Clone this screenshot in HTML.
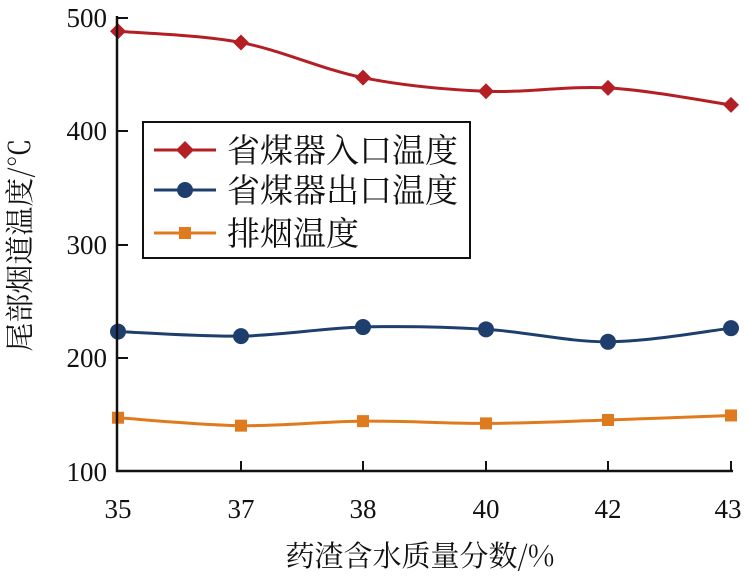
<!DOCTYPE html>
<html><head><meta charset="utf-8"><style>
body{margin:0;background:#fff;}
svg{display:block;}
.n{font-family:"Liberation Serif","DejaVu Serif",serif;}
.c{font-family:"Noto Serif CJK SC","Liberation Serif",serif;}
</style></head><body>
<svg id="s" width="747" height="578" xmlns="http://www.w3.org/2000/svg">
<g id="series"></g>
<line x1="117" y1="16" x2="117" y2="472" stroke="#111" stroke-width="2.5"/>
<line x1="116" y1="471" x2="733" y2="471" stroke="#111" stroke-width="2.5"/>
<g stroke="#111" stroke-width="2">
<line x1="117" y1="18" x2="128" y2="18"/><line x1="117" y1="131" x2="128" y2="131"/>
<line x1="117" y1="245" x2="128" y2="245"/><line x1="117" y1="358" x2="128" y2="358"/>
<line x1="241" y1="471" x2="241" y2="461"/><line x1="363" y1="471" x2="363" y2="461"/>
<line x1="486" y1="471" x2="486" y2="461"/><line x1="608" y1="471" x2="608" y2="461"/>
<line x1="731" y1="471" x2="731" y2="461"/>
</g>
<g class="n" font-size="27" fill="#111" text-anchor="end">
<text x="107" y="27">500</text><text x="107" y="140">400</text><text x="107" y="254">300</text>
<text x="107" y="367">200</text><text x="107" y="481">100</text>
</g>
<g class="n" font-size="27" fill="#111" text-anchor="middle">
<text x="118" y="518">35</text><text x="241" y="518">37</text><text x="363" y="518">38</text>
<text x="486" y="518">40</text><text x="608" y="518">42</text><text x="728" y="518">43</text>
</g>
<text class="c" x="420" y="566" font-size="29" text-anchor="middle" fill="#111">药渣含水质量分数/%</text>
<text class="c" transform="translate(30,245) rotate(-90)" font-size="29" text-anchor="middle" fill="#111">尾部烟道温度/℃</text>
<rect x="143" y="122" width="327" height="136" fill="#fff" stroke="#111" stroke-width="2"/>
<line x1="154" y1="150" x2="216" y2="150" stroke="#b41f24" stroke-width="3"/>
<polygon points="185,141 194,150 185,159 176,150" fill="#b41f24"/>
<line x1="154" y1="190" x2="216" y2="190" stroke="#1e3f6e" stroke-width="3"/>
<circle cx="185" cy="190" r="8" fill="#1e3f6e"/>
<line x1="154" y1="233" x2="216" y2="233" stroke="#e07a1f" stroke-width="3"/>
<rect x="179" y="227" width="12" height="12" fill="#e07a1f"/>
<g class="c" font-size="33" fill="#111">
<text x="227" y="162">省煤器入口温度</text>
<text x="227" y="202">省煤器出口温度</text>
<text x="227" y="245">排烟温度</text>
</g>
</svg>
<script>
var X=[118,241,363,486,608,731];
function y(v){return 471-(v-100)*1.1335;}
var S=[{c:"#b41f24",d:[488,478,447,435,438,423],m:"d"},{c:"#1e3f6e",d:[223,219,227,225,214,226],m:"c"},{c:"#e07a1f",d:[147,140,144,142,145,149],m:"s"}];
var g=document.getElementById("series"),h="";
S.forEach(function(s){
var p=X.map(function(x,i){return [x,y(s.d[i])];});
var d="M"+p[0][0]+","+p[0][1];
for(var i=0;i<p.length-1;i++){
var p0=p[i-1]||p[i],p1=p[i],p2=p[i+1],p3=p[i+2]||p[i+1];
var c1=[p1[0]+(p2[0]-p0[0])/6,p1[1]+(p2[1]-p0[1])/6],c2=[p2[0]-(p3[0]-p1[0])/6,p2[1]-(p3[1]-p1[1])/6];
d+=" C"+c1+" "+c2+" "+p2;}
h+='<path d="'+d+'" fill="none" stroke="'+s.c+'" stroke-width="3"/>';
p.forEach(function(q){
if(s.m=="d")h+='<polygon points="'+q[0]+','+(q[1]-8)+' '+(q[0]+8)+','+q[1]+' '+q[0]+','+(q[1]+8)+' '+(q[0]-8)+','+q[1]+'" fill="'+s.c+'"/>';
else if(s.m=="c")h+='<circle cx="'+q[0]+'" cy="'+q[1]+'" r="8" fill="'+s.c+'"/>';
else h+='<rect x="'+(q[0]-6)+'" y="'+(q[1]-6)+'" width="12" height="12" fill="'+s.c+'"/>';});
});
g.innerHTML=h;
</script>
</body></html>
